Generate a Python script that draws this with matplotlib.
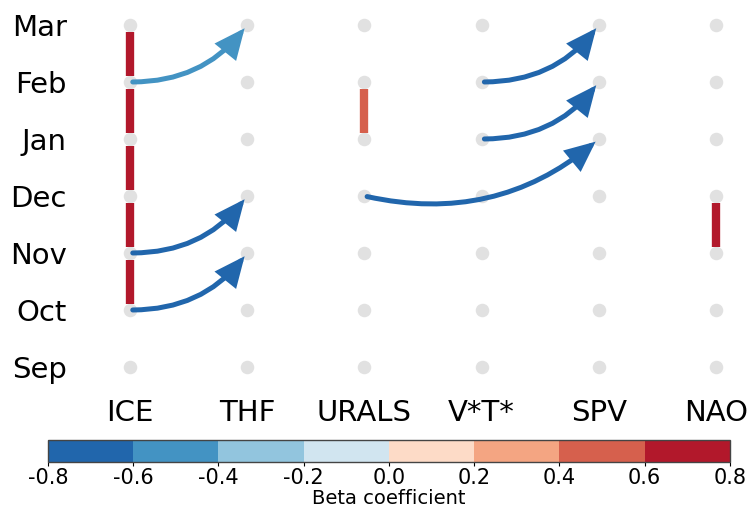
import matplotlib
matplotlib.use('Agg')
import matplotlib.pyplot as plt
import numpy as np
from matplotlib.colors import ListedColormap, BoundaryNorm
from matplotlib.patches import FancyArrowPatch, ArrowStyle
from matplotlib.cm import ScalarMappable

plt.rcParams['axes.unicode_minus'] = False

months = ['Sep', 'Oct', 'Nov', 'Dec', 'Jan', 'Feb', 'Mar']
variables = ['ICE', 'THF', 'URALS', 'V*T*', 'SPV', 'NAO']

# autocorrelation bars: variable, start month (bar goes to next month), beta
bar_var = ['ICE', 'ICE', 'ICE', 'ICE', 'ICE', 'URALS', 'NAO']
bar_month = ['Oct', 'Nov', 'Dec', 'Jan', 'Feb', 'Jan', 'Nov']
bar_beta = [0.7, 0.7, 0.7, 0.7, 0.7, 0.5, 0.7]

# causal links between variables
link_src_var = ['ICE', 'ICE', 'ICE', 'URALS', 'V*T*', 'V*T*']
link_src_month = ['Feb', 'Nov', 'Oct', 'Dec', 'Feb', 'Jan']
link_dst_var = ['THF', 'THF', 'THF', 'SPV', 'SPV', 'SPV']
link_dst_month = ['Mar', 'Dec', 'Nov', 'Jan', 'Mar', 'Feb']
link_beta = [-0.5, -0.7, -0.7, -0.7, -0.7, -0.7]

cb_colors = ['#2166ac', '#4393c3', '#92c5de', '#d1e5f0',
             '#fddbc7', '#f4a582', '#d6604d', '#b2182b']
bounds = [-0.8, -0.6, -0.4, -0.2, 0.0, 0.2, 0.4, 0.6, 0.8]
bound_labels = ['-0.8', '-0.6', '-0.4', '-0.2', '0.0', '0.2', '0.4', '0.6', '0.8']
cmap = ListedColormap(cb_colors)
norm = BoundaryNorm(bounds, cmap.N)

xi = {v: i for i, v in enumerate(variables)}
yi = {m: i for i, m in enumerate(months)}

fig = plt.figure(figsize=(7.5, 5.14), dpi=100)
ax = fig.add_axes([0.1333, 0.251, 0.86, 0.7296])

gx, gy = np.meshgrid(np.arange(len(variables)), np.arange(len(months)))
ax.scatter(gx.ravel(), gy.ravel(), s=95, color='#e1e1e1', zorder=1, linewidths=0)

for v, m, b in zip(bar_var, bar_month, bar_beta):
    x = xi[v]
    y = yi[m]
    ax.plot([x, x], [y + 0.11, y + 0.88], color=cmap(norm(b)), lw=6,
            solid_capstyle='butt', zorder=2)

style = ArrowStyle('-|>', head_length=0.8, head_width=0.36)
for sv, sm, dv, dm, b in zip(link_src_var, link_src_month, link_dst_var,
                             link_dst_month, link_beta):
    arr = FancyArrowPatch((xi[sv], yi[sm]), (xi[dv], yi[dm]),
                          connectionstyle='arc3,rad=0.25', arrowstyle=style,
                          mutation_scale=20, lw=3.6, color=cmap(norm(b)),
                          joinstyle='miter', shrinkA=2, shrinkB=3, zorder=3)
    ax.add_patch(arr)

ax.set_xlim(-0.256, 5.247)
ax.set_ylim(-0.316, 6.263)
ax.set_yticks(range(len(months)))
ax.set_yticklabels(months, fontsize=21)
ax.set_xticks(range(len(variables)))
ax.set_xticklabels(variables, fontsize=21)
ax.tick_params(axis='y', length=0, pad=24)
ax.tick_params(axis='x', length=0, pad=10)
for s in ax.spines.values():
    s.set_visible(False)

cax = fig.add_axes([0.064, 0.101, 0.909, 0.043])
cb = fig.colorbar(ScalarMappable(norm=norm, cmap=cmap), cax=cax,
                  orientation='horizontal', ticks=bounds)
cb.set_ticklabels(bound_labels)
cb.outline.set_edgecolor('#444444')
cb.outline.set_linewidth(1)
cax.tick_params(labelsize=15, length=3, pad=1)
cb.set_label('Beta coefficient', fontsize=14, labelpad=1)

fig.savefig('out.png', dpi=100)
